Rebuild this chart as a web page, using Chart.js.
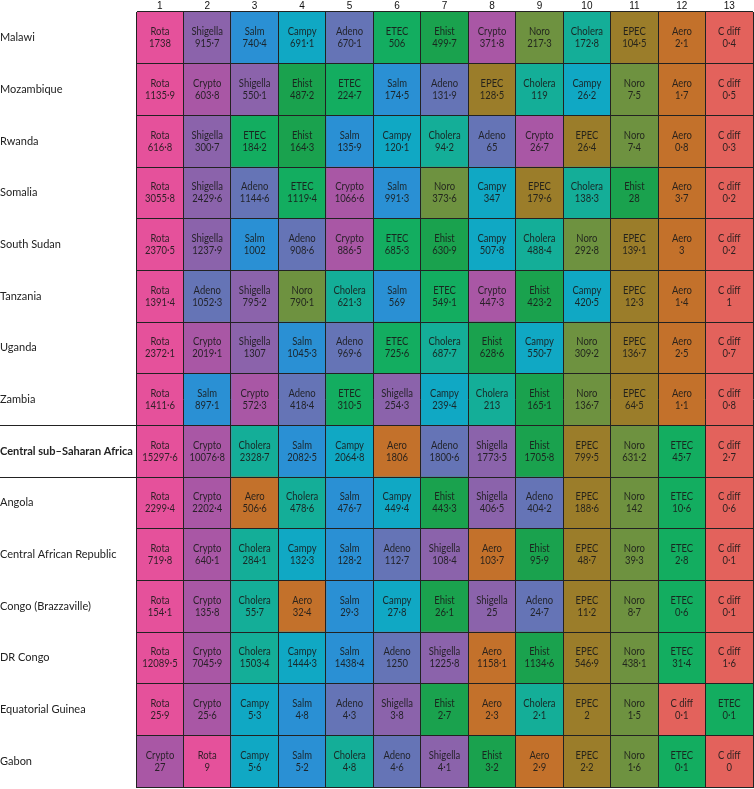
<!DOCTYPE html>
<html>
<head>
<meta charset="utf-8">
<script src="https://cdn.jsdelivr.net/npm/chart.js@4/dist/chart.umd.min.js"></script>
<style>
  html, body { margin: 0; padding: 0; background: #fff; }
  #wrap { width: 754px; height: 789px; position: relative; }
</style>
</head>
<body>
<div id="wrap"><canvas id="myChart"></canvas></div>
<script>
// column ranks shown along the top
const columnNumbers = ['1', '2', '3', '4', '5', '6', '7', '8', '9', '10', '11', '12', '13'];

const countries = [
    'Malawi', 'Mozambique', 'Rwanda', 'Somalia', 'South Sudan', 'Tanzania', 'Uganda', 'Zambia',
    'Central sub–Saharan Africa',
    'Angola', 'Central African Republic', 'Congo (Brazzaville)', 'DR Congo', 'Equatorial Guinea', 'Gabon'
];

// pathogen in each ranked cell, one row per country
const cellPathogens = [
    ['Rota', 'Shigella', 'Salm', 'Campy', 'Adeno', 'ETEC', 'Ehist', 'Crypto', 'Noro', 'Cholera', 'EPEC', 'Aero', 'C diff'],
    ['Rota', 'Crypto', 'Shigella', 'Ehist', 'ETEC', 'Salm', 'Adeno', 'EPEC', 'Cholera', 'Campy', 'Noro', 'Aero', 'C diff'],
    ['Rota', 'Shigella', 'ETEC', 'Ehist', 'Salm', 'Campy', 'Cholera', 'Adeno', 'Crypto', 'EPEC', 'Noro', 'Aero', 'C diff'],
    ['Rota', 'Shigella', 'Adeno', 'ETEC', 'Crypto', 'Salm', 'Noro', 'Campy', 'EPEC', 'Cholera', 'Ehist', 'Aero', 'C diff'],
    ['Rota', 'Shigella', 'Salm', 'Adeno', 'Crypto', 'ETEC', 'Ehist', 'Campy', 'Cholera', 'Noro', 'EPEC', 'Aero', 'C diff'],
    ['Rota', 'Adeno', 'Shigella', 'Noro', 'Cholera', 'Salm', 'ETEC', 'Crypto', 'Ehist', 'Campy', 'EPEC', 'Aero', 'C diff'],
    ['Rota', 'Crypto', 'Shigella', 'Salm', 'Adeno', 'ETEC', 'Cholera', 'Ehist', 'Campy', 'Noro', 'EPEC', 'Aero', 'C diff'],
    ['Rota', 'Salm', 'Crypto', 'Adeno', 'ETEC', 'Shigella', 'Campy', 'Cholera', 'Ehist', 'Noro', 'EPEC', 'Aero', 'C diff'],
    ['Rota', 'Crypto', 'Cholera', 'Salm', 'Campy', 'Aero', 'Adeno', 'Shigella', 'Ehist', 'EPEC', 'Noro', 'ETEC', 'C diff'],
    ['Rota', 'Crypto', 'Aero', 'Cholera', 'Salm', 'Campy', 'Ehist', 'Shigella', 'Adeno', 'EPEC', 'Noro', 'ETEC', 'C diff'],
    ['Rota', 'Crypto', 'Cholera', 'Campy', 'Salm', 'Adeno', 'Shigella', 'Aero', 'Ehist', 'EPEC', 'Noro', 'ETEC', 'C diff'],
    ['Rota', 'Crypto', 'Cholera', 'Aero', 'Salm', 'Campy', 'Ehist', 'Shigella', 'Adeno', 'EPEC', 'Noro', 'ETEC', 'C diff'],
    ['Rota', 'Crypto', 'Cholera', 'Campy', 'Salm', 'Adeno', 'Shigella', 'Aero', 'Ehist', 'EPEC', 'Noro', 'ETEC', 'C diff'],
    ['Rota', 'Crypto', 'Campy', 'Salm', 'Adeno', 'Shigella', 'Ehist', 'Aero', 'Cholera', 'EPEC', 'Noro', 'C diff', 'ETEC'],
    ['Crypto', 'Rota', 'Campy', 'Salm', 'Cholera', 'Adeno', 'Shigella', 'Ehist', 'Aero', 'EPEC', 'Noro', 'ETEC', 'C diff']
];

// value shown under each pathogen name, same layout as above
const cellValues = [
    [1738, 915.7, 740.4, 691.1, 670.1, 506, 499.7, 371.8, 217.3, 172.8, 104.5, 2.1, 0.4],
    [1135.9, 603.8, 550.1, 487.2, 224.7, 174.5, 131.9, 128.5, 119, 26.2, 7.5, 1.7, 0.5],
    [616.8, 300.7, 184.2, 164.3, 135.9, 120.1, 94.2, 65, 26.7, 26.4, 7.4, 0.8, 0.3],
    [3055.8, 2429.6, 1144.6, 1119.4, 1066.6, 991.3, 373.6, 347, 179.6, 138.3, 28, 3.7, 0.2],
    [2370.5, 1237.9, 1002, 908.6, 886.5, 685.3, 630.9, 507.8, 488.4, 292.8, 139.1, 3, 0.2],
    [1391.4, 1052.3, 795.2, 790.1, 621.3, 569, 549.1, 447.3, 423.2, 420.5, 12.3, 1.4, 1],
    [2372.1, 2019.1, 1307, 1045.3, 969.6, 725.6, 687.7, 628.6, 550.7, 309.2, 136.7, 2.5, 0.7],
    [1411.6, 897.1, 572.3, 418.4, 310.5, 254.3, 239.4, 213, 165.1, 136.7, 64.5, 1.1, 0.8],
    [15297.6, 10076.8, 2328.7, 2082.5, 2064.8, 1806, 1800.6, 1773.5, 1705.8, 799.5, 631.2, 45.7, 2.7],
    [2299.4, 2202.4, 506.6, 478.6, 476.7, 449.4, 443.3, 406.5, 404.2, 188.6, 142, 10.6, 0.6],
    [719.8, 640.1, 284.1, 132.3, 128.2, 112.7, 108.4, 103.7, 95.9, 48.7, 39.3, 2.8, 0.1],
    [154.1, 135.8, 55.7, 32.4, 29.3, 27.8, 26.1, 25, 24.7, 11.2, 8.7, 0.6, 0.1],
    [12089.5, 7045.9, 1503.4, 1444.3, 1438.4, 1250, 1225.8, 1158.1, 1134.6, 546.9, 438.1, 31.4, 1.6],
    [25.9, 25.6, 5.3, 4.8, 4.3, 3.8, 2.7, 2.3, 2.1, 2, 1.5, 0.1, 0.1],
    [27, 9, 5.6, 5.2, 4.8, 4.6, 4.1, 3.2, 2.9, 2.2, 1.6, 0.1, 0]
];

const pathogenColours = {
    'Rota': '#e5519b',
    'Shigella': '#8b63ab',
    'Salm': '#2a90d4',
    'Campy': '#10a8c4',
    'Adeno': '#6574b6',
    'ETEC': '#13ad60',
    'Ehist': '#1aa24e',
    'Crypto': '#a957a5',
    'Noro': '#6e9240',
    'Cholera': '#14ae98',
    'EPEC': '#9b7d2a',
    'Aero': '#c3712b',
    'C diff': '#e3625c'
};

const regionRow = 8; // the bold summary row
const lineColour = '#222';
const labelFont = "Lato, 'Liberation Sans', sans-serif";

// one floating-bar dataset per rank column, spanning [c, c+1] on the x scale
const datasets = columnNumbers.map((num, c) => ({
    label: num,
    data: countries.map(() => [c, c + 1]),
    backgroundColor: countries.map((name, r) => pathogenColours[cellPathogens[r][c]]),
    borderWidth: 0,
    grouped: false,
    barPercentage: 1,
    categoryPercentage: 1
}));

// pathogen name + value in the middle of every cell (squeezed a little, the source font is condensed)
const cellText = {
    id: 'cellText',
    afterDatasetsDraw(chart) {
        const ctx = chart.ctx;
        const squeeze = 0.9;
        ctx.save();
        ctx.font = '10.5px ' + labelFont;
        ctx.fillStyle = 'rgba(25, 25, 25, 0.9)';
        ctx.textAlign = 'center';
        ctx.textBaseline = 'middle';
        chart.data.datasets.forEach((ds, c) => {
            const meta = chart.getDatasetMeta(c);
            meta.data.forEach((bar, r) => {
                const p = bar.getCenterPoint();
                ctx.save();
                ctx.translate(p.x, p.y);
                ctx.scale(squeeze, 1);
                ctx.fillText(cellPathogens[r][c], 0, -6);
                ctx.fillText(String(cellValues[r][c]).replace('.', '·'), 0, 6);
                ctx.restore();
            });
        });
        ctx.restore();
    }
};

const ctx = document.getElementById('myChart').getContext('2d');
const myChart = new Chart(ctx, {
    type: 'bar',
    data: {
        labels: countries,
        datasets: datasets
    },
    plugins: [cellText],
    options: {
        indexAxis: 'y',
        responsive: true,
        maintainAspectRatio: false,
        animation: false,
        layout: { padding: { right: 1, top: 0, bottom: 0, left: 0 } },
        plugins: {
            legend: { display: false },
            tooltip: { enabled: false }
        },
        scales: {
            x: {
                type: 'linear',
                position: 'bottom',
                min: 0,
                max: columnNumbers.length,
                ticks: { display: false, stepSize: 1 },
                grid: { color: lineColour, lineWidth: 1, drawTicks: false, z: 1 },
                border: { display: true, color: lineColour, z: 1 },
                afterFit: function (scale) { scale.height = 2; }
            },
            xTop: {
                type: 'linear',
                position: 'top',
                min: 0,
                max: columnNumbers.length,
                grid: { display: false, drawTicks: false },
                border: { display: false },
                ticks: {
                    autoSkip: false,
                    maxRotation: 0,
                    padding: 0,
                    color: '#111',
                    font: { family: "'Liberation Sans', sans-serif", size: 10 },
                    callback: function (value) {
                        return columnNumbers[Math.floor(value)];
                    }
                },
                afterBuildTicks: function (axis) {
                    axis.ticks = columnNumbers.map((n, i) => ({ value: i + 0.5 }));
                },
                afterFit: function (scale) { scale.height = 12; }
            },
            y: {
                type: 'category',
                grid: {
                    color: lineColour,
                    lineWidth: 1,
                    z: 1,
                    drawTicks: true,
                    tickLength: 136,
                    tickColor: function (c) {
                        return (c.index === regionRow || c.index === regionRow + 1) ? lineColour : 'rgba(0,0,0,0)';
                    }
                },
                border: { display: true, color: lineColour, z: 1 },
                ticks: {
                    crossAlign: 'far',
                    autoSkip: false,
                    color: '#222',
                    font: function (c) {
                        return {
                            family: labelFont,
                            size: 11,
                            weight: c.index === regionRow ? 'bold' : 'normal'
                        };
                    }
                },
                afterFit: function (scale) {
                    scale.width = 136;
                    scale.paddingTop = 0;
                    scale.paddingBottom = 0;
                }
            }
        }
    }
});
</script>
</body>
</html>
